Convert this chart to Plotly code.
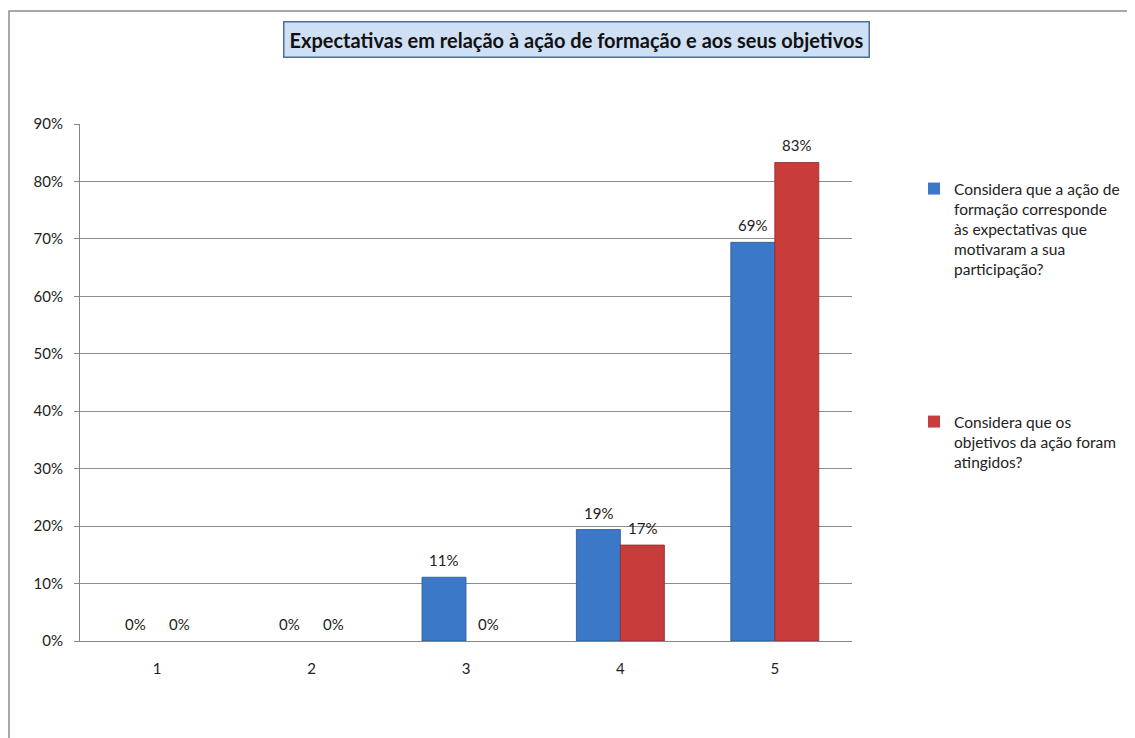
import plotly.graph_objects as go

categories = ["1", "2", "3", "4", "5"]
serie_expectativas = [0, 0, 11.1, 19.4, 69.4]
serie_objetivos = [0, 0, 0, 16.7, 83.3]
nome_expectativas = "Considera que a ação de<br>formação corresponde<br>às expectativas que<br>motivaram a sua<br>participação?"
nome_objetivos = "Considera que os<br>objetivos da ação foram<br>atingidos?"
titulo = "Expectativas em relação à ação de formação e aos seus objetivos"
y_ticks = [0, 10, 20, 30, 40, 50, 60, 70, 80, 90]
y_tick_text = [f"{v}%" for v in y_ticks]

FONT = "Lato"
OFF = 8  # page body margin
W, H = 1135 - OFF, 738 - OFF
# plot area in page pixel coords
L, R, T, B = 80, 852, 124, 641
BARGAP = 0.43

def fx(x):
    return x - OFF
def fy(y):
    return y - OFF

pw, ph = R - L, B - T
def px(x):
    return (x - L) / pw
def py(y):
    return (B - y) / ph
def cx(x):
    return fx(x) / W
def cy(y):
    return 1 - fy(y) / H

series = [
    (serie_expectativas, nome_expectativas, "#3C78C8", "#2A5690", "legend"),
    (serie_objetivos, nome_objetivos, "#C83C3C", "#8E2A2A", "legend2"),
]

fig = go.Figure()
for vals, nome, cor, borda, leg in series:
    fig.add_trace(go.Bar(
        x=categories, y=vals, name=nome,
        marker=dict(color=cor, line=dict(color=borda,
                    width=[0 if v == 0 else 0.8 for v in vals])),
        legend=leg,
    ))

# data labels above bars (x given as category index)
cat_px = pw / len(categories)
bar_px = (1 - BARGAP) * cat_px / len(series)
annotations = []
for k, (vals, _, _, _, _) in enumerate(series):
    shift = (k - (len(series) - 1) / 2) * bar_px
    for i, v in enumerate(vals):
        annotations.append(dict(
            x=i, y=v, xref="x", yref="y", text=f"{v:.0f}%",
            showarrow=False, xanchor="center", yanchor="bottom",
            xshift=shift, yshift=6,
            font=dict(size=15, family=FONT, color="#222222"),
        ))

annotations.append(dict(
    text="<b>" + titulo + "</b>", xref="paper", yref="paper",
    x=px(576), y=py(39), xanchor="center", yanchor="middle",
    showarrow=False, font=dict(size=20, family=FONT, color="#111111"),
    bgcolor="#CFE0F5", bordercolor="#4A6E9E", borderwidth=1.5, borderpad=5,
))

fig.update_layout(
    width=W, height=H,
    margin=dict(l=fx(L), r=W - fx(R), t=fy(T), b=H - fy(B), pad=0, autoexpand=False),
    paper_bgcolor="white", plot_bgcolor="white",
    font=dict(family=FONT, size=15, color="#222222"),
    barmode="group", bargap=BARGAP, bargroupgap=0,
    showlegend=True,
    legend=dict(xref="container", yref="container", x=cx(914), y=cy(172),
                xanchor="left", yanchor="top", valign="top",
                font=dict(size=15.5, family=FONT, color="#222222"),
                itemwidth=30, bgcolor="rgba(0,0,0,0)"),
    legend2=dict(xref="container", yref="container", x=cx(914), y=cy(405),
                 xanchor="left", yanchor="top", valign="top",
                 font=dict(size=15.5, family=FONT, color="#222222"),
                 itemwidth=30, bgcolor="rgba(0,0,0,0)"),
    xaxis=dict(type="category", categoryorder="array", categoryarray=categories,
               range=[-0.5, len(categories) - 0.5],
               showline=True, linecolor="#868686", linewidth=1,
               ticks="", tickfont=dict(size=15), ticklabelstandoff=14,
               showgrid=False),
    yaxis=dict(range=[0, 90], tickvals=y_ticks, ticktext=y_tick_text,
               showgrid=True, gridcolor="#8C8C8C", gridwidth=1,
               showline=True, linecolor="#868686", linewidth=1,
               ticks="outside", ticklen=5, tickcolor="#868686",
               tickfont=dict(size=15), zeroline=False, ticklabelstandoff=8),
    annotations=annotations,
    shapes=[dict(type="rect", xref="paper", yref="paper",
                 x0=px(9), x1=px(1300), y0=py(900), y1=py(11),
                 line=dict(color="#8C8C8C", width=1.5), layer="below")],
)

fig.write_html("out.html")
